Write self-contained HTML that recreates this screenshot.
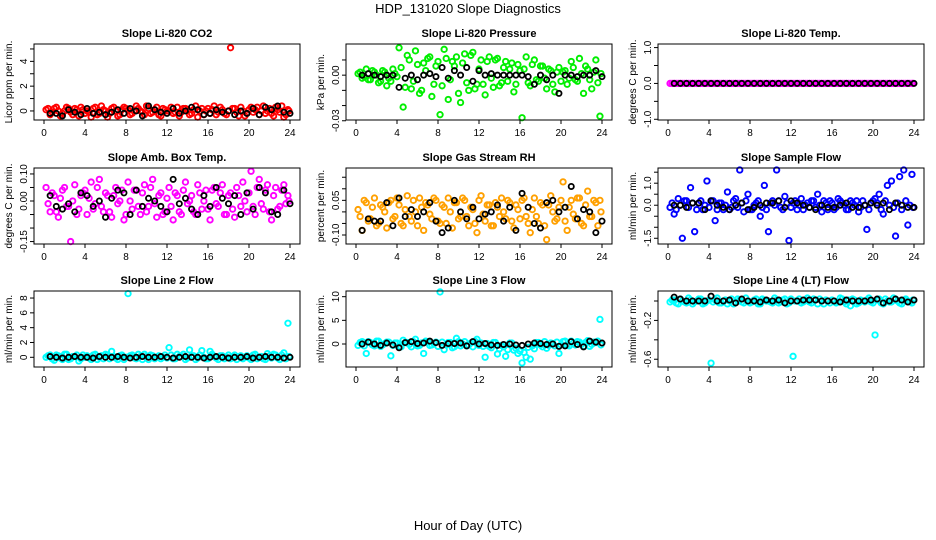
<!DOCTYPE html>
<html><head><meta charset="utf-8"><style>
body{margin:0;background:#fff;}
svg{display:block;font-family:"Liberation Sans",sans-serif;}
</style></head><body>
<svg id="c" width="936" height="540" viewBox="0 0 936 540">
<text x="468" y="13" text-anchor="middle" font-size="13">HDP_131020  Slope Diagnostics</text>
<text x="468" y="530" text-anchor="middle" font-size="13">Hour of Day (UTC)</text>
</svg>
<script>
const xTickLabels = ["0","4","8","12","16","20","24"];
const colorHours = [0.2,0.6,1.0,1.4,1.8,2.2,2.6,3.0,3.4,3.8,4.2,4.6,5.0,5.4,5.8,6.2,6.6,7.0,7.4,7.8,8.2,8.6,9.0,9.4,9.8,10.2,10.6,11.0,11.4,11.8,12.2,12.6,13.0,13.4,13.8,14.2,14.6,15.0,15.4,15.8,16.2,16.6,17.0,17.4,17.8,18.2,18.6,19.0,19.4,19.8,20.2,20.6,21.0,21.4,21.8,22.2,22.6,23.0,23.4,23.8];
const colorHours2 = [0.4,0.8,1.2,1.6,2.0,2.4,2.8,3.2,3.6,4.0,4.4,4.8,5.2,5.6,6.0,6.4,6.8,7.2,7.6,8.0,8.4,8.8,9.2,9.6,10.0,10.4,10.8,11.2,11.6,12.0,12.4,12.8,13.2,13.6,14.0,14.4,14.8,15.2,15.6,16.0,16.4,16.8,17.2,17.6,18.0,18.4,18.8,19.2,19.6,20.0,20.4,20.8,21.2,21.6,22.0,22.4,22.8,23.2,23.6,23.9];
const blackHours = [0.6,1.2,1.8,2.4,3.0,3.6,4.2,4.8,5.4,6.0,6.6,7.2,7.8,8.4,9.0,9.6,10.2,10.8,11.4,12.0,12.6,13.2,13.8,14.4,15.0,15.6,16.2,16.8,17.4,18.0,18.6,19.2,19.8,20.4,21.0,21.6,22.2,22.8,23.4,24.0];

const co2Color = [0.1,-0.3,0.2,0.0,-0.2,0.3,-0.1,0.2,-0.4,0.1, 0.0,-0.5,0.3,-0.2,0.1,-0.5,0.2,0.0,-0.3,0.3, 0.1,-0.2,0.4,0.0,-0.3,0.2,-0.1,0.3,-0.4,0.1, 0.0,-0.2,0.3,-0.1,0.2,-0.3,0.1,-0.5,0.2,0.0, -0.2,0.4,-0.1,0.1,-0.3,5.1,0.2,-0.4,0.0,-0.2, 0.3,0.1,-0.3,0.4,0.0,-0.2,0.3,-0.1,-0.5,0.1];
const co2Color2 = [0.2,-0.1,0.3,-0.4,0.0,0.2,-0.3,0.1,0.3,-0.2, -0.1,0.2,-0.3,0.4,0.0,-0.2,0.3,-0.4,0.1,0.2, -0.3,0.0,0.2,-0.1,0.4,-0.2,0.1,-0.3,0.2,0.0, 0.3,-0.1,-0.4,0.2,0.1,-0.2,0.4,0.0,-0.3,0.2, 0.1,-0.3,0.3,-0.2,0.0,0.2,-0.1,0.3,-0.4,0.1, -0.1,0.3,0.0,-0.2,0.2,-0.4,0.1,0.4,-0.3,0.0];
const co2Black = [-0.2,-0.2,-0.4,0.1,-0.1,-0.3,0.2,-0.2,-0.1,-0.3, -0.1,0.1,-0.2,0.2,0.0,-0.4,0.4,0.1,-0.1,-0.2, 0.2,-0.2,0.0,0.3,0.1,-0.3,-0.2,0.1,-0.1,0.0, -0.3,0.0,-0.2,0.2,-0.3,0.3,0.1,0.4,-0.1,-0.2];
const presColor = [0.001,-0.002,0.004,-0.003,0.002,-0.005,0.003,-0.007,-0.004,0.001, 0.018,-0.021,0.013,-0.009,0.016,-0.012,0.008,0.011,-0.014,0.006, -0.026,0.017,-0.016,0.009,0.012,-0.018,0.014,-0.010,0.015,-0.006, 0.010,-0.013,0.012,-0.008,0.011,-0.005,0.009,0.004,-0.011,0.007, -0.028,0.012,-0.007,0.010,-0.004,0.006,-0.009,0.003,-0.011,0.005, 0.002,-0.006,0.009,-0.003,0.011,-0.012,0.004,-0.009,0.010,-0.027];
const presColor2 = [0.002,-0.001,-0.003,0.003,0.000,-0.004,0.002,-0.002,0.004,-0.001, 0.005,-0.008,0.010,-0.004,0.007,-0.010,0.003,0.012,-0.006,0.009, -0.007,0.011,-0.003,0.006,-0.012,0.008,-0.005,0.013,-0.009,0.004, -0.006,0.009,-0.002,0.010,-0.007,0.005,-0.004,0.008,-0.006,0.003, 0.004,-0.005,0.007,-0.003,0.006,-0.002,0.004,-0.006,0.002,-0.004, 0.003,-0.002,0.005,-0.004,0.001,0.006,-0.003,0.002,-0.005,0.001];
const presBlack = [0.000,0.001,0.000,-0.001,0.000,0.000,-0.008,-0.002,0.000,-0.003, 0.000,0.001,-0.001,0.005,-0.002,0.003,0.000,0.005,-0.004,0.003, 0.000,0.001,0.000,0.000,0.000,0.000,0.000,-0.001,-0.006,0.000, -0.003,0.000,-0.012,0.000,0.000,-0.001,0.000,0.000,0.003,-0.001];
const tempColor = [0,0,0,0,0,0,0,0,0,0, 0,0,0,0,0,0,0,0,0,0, 0,0,0,0,0,0,0,0,0,0, 0,0,0,0,0,0,0,0,0,0, 0,0,0,0,0,0,0,0,0,0, 0,0,0,0,0,0,0,0,0,0];
const tempColor2 = [0,0,0,0,0,0,0,0,0,0, 0,0,0,0,0,0,0,0,0,0, 0,0,0,0,0,0,0,0,0,0, 0,0,0,0,0,0,0,0,0,0, 0,0,0,0,0,0,0,0,0,0, 0,0,0,0,0,0,0,0,0,0];
const tempBlack = [0,0,0,0,0,0,0,0,0,0, 0,0,0,0,0,0,0,0,0,0, 0,0,0,0,0,0,0,0,0,0, 0,0,0,0,0,0,0,0,0,0];
const ambColor = [0.05,-0.04,0.02,-0.06,0.04,-0.02,-0.15,0.06,-0.03,0.03, -0.05,0.07,-0.01,0.08,-0.04,0.02,-0.06,0.05,0.0,-0.07, 0.07,-0.03,0.04,-0.05,0.06,-0.02,0.08,-0.06,0.03,-0.04, 0.05,-0.07,0.02,-0.05,0.07,0.0,-0.04,0.06,-0.03,0.04, -0.07,0.05,-0.02,0.06,-0.05,0.03,-0.06,0.02,0.07,-0.04, 0.11,-0.05,0.08,-0.03,0.06,-0.07,0.05,-0.02,0.06,0.02];
const ambColor2 = [-0.01,0.03,-0.04,0.01,0.05,-0.02,0.00,-0.05,0.02,0.04, 0.01,-0.03,0.05,-0.02,0.03,-0.04,0.02,-0.01,0.04,-0.05, 0.00,0.04,-0.02,0.03,-0.04,0.05,-0.01,0.02,-0.05,0.01, -0.02,0.03,-0.04,0.04,-0.01,0.02,-0.05,0.03,0.00,-0.03, 0.04,-0.01,0.03,-0.05,0.02,-0.03,0.05,-0.02,0.00,0.03, -0.02,0.05,-0.01,0.04,-0.04,0.02,-0.03,0.04,-0.01,0.00];
const ambBlack = [0.02,-0.02,-0.03,-0.01,-0.04,0.03,0.02,-0.02,0.0,-0.06, 0.01,0.04,0.03,-0.05,0.04,-0.02,0.01,0.0,-0.02,-0.04, 0.08,-0.01,0.01,-0.03,-0.05,0.02,-0.02,0.05,0.01,-0.01, 0.02,-0.05,0.03,-0.03,0.05,0.03,-0.04,-0.05,0.04,-0.01];
const rhColor = [0.01,-0.08,0.04,-0.03,0.06,-0.05,0.02,-0.07,0.05,-0.02, 0.03,-0.06,0.07,-0.04,0.0,0.06,-0.08,0.03,-0.03,0.05, -0.05,0.02,0.06,-0.07,0.04,-0.02,0.05,-0.06,0.01,-0.09, 0.07,-0.04,0.03,-0.06,0.02,0.06,-0.03,0.04,-0.07,0.01, 0.05,-0.02,-0.09,0.06,-0.05,0.03,-0.12,0.07,-0.04,0.02, 0.13,-0.08,0.05,-0.03,0.06,-0.06,0.09,-0.02,0.04,0.05];
const rhColor2 = [-0.02,0.05,-0.04,0.02,-0.06,0.03,0.00,0.04,-0.03,0.06, -0.05,0.01,-0.02,0.05,-0.06,0.02,0.04,-0.01,0.06,-0.04, 0.03,-0.05,0.00,0.04,-0.03,0.06,-0.02,0.02,-0.05,0.05, -0.01,0.03,-0.06,0.04,-0.02,0.00,0.05,-0.04,0.03,-0.03, 0.06,-0.05,0.01,-0.02,0.04,-0.06,0.03,0.00,-0.03,0.05, -0.04,0.02,-0.01,0.06,-0.05,0.03,-0.02,0.05,-0.06,0.00];
const rhBlack = [-0.08,-0.03,-0.04,-0.04,0.04,-0.06,0.06,-0.02,0.01,-0.02, 0.0,0.04,-0.04,-0.09,-0.07,0.05,0.0,-0.03,0.02,-0.03, -0.01,0.0,0.03,-0.04,0.02,-0.08,0.08,0.02,-0.05,-0.07, 0.04,0.05,0.0,0.02,0.11,-0.03,0.01,0.0,-0.09,-0.04];
const sampleColor = [-0.1,-0.4,0.3,-1.5,0.2,0.8,-1.2,0.1,-0.2,1.1, 0.2,-0.7,0.1,-0.2,0.6,-0.1,0.3,1.6,-0.3,0.5, -0.2,0.1,-0.5,0.9,-1.2,0.2,1.6,-0.1,0.4,-1.6, 0.1,-0.2,0.3,0.0,-0.1,0.2,0.5,-0.3,0.1,0.2, -0.2,0.3,0.1,-0.2,0.2,0.0,-0.3,0.2,-1.1,0.1, 0.3,0.5,-0.4,0.9,1.1,-1.4,1.3,1.6,-0.9,1.4];
const sampleColor2 = [0.1,-0.2,0.0,0.2,-0.1,0.1,-0.2,0.2,0.0,-0.1, 0.2,-0.2,0.1,0.0,-0.2,0.2,-0.1,0.1,0.2,-0.2, 0.0,0.2,-0.1,-0.2,0.1,0.0,0.2,-0.2,0.1,-0.1, 0.2,0.0,-0.2,0.1,0.2,-0.1,0.0,0.2,-0.2,0.1, -0.1,0.2,0.0,-0.2,0.1,0.2,-0.1,0.0,-0.2,0.2, 0.1,-0.2,0.2,0.0,-0.1,0.1,-0.2,0.2,0.0,-0.1];
const sampleBlack = [0.0,0.0,-0.1,0.1,0.1,-0.2,0.2,0.0,-0.1,-0.2, 0.0,0.1,-0.2,-0.1,0.0,0.1,0.1,0.2,-0.1,0.2, 0.1,0.0,-0.1,-0.2,0.0,-0.1,-0.1,0.0,0.1,-0.1, -0.1,0.0,0.1,0.0,0.1,-0.2,0.1,0.0,-0.1,-0.1];
const line2Color = [0.0,0.3,-0.4,0.2,-0.3,0.4,-0.2,0.1,-0.5,0.3, 0.2,-0.3,0.4,0.0,-0.2,0.3,0.8,-0.1,0.2,-0.3, 8.6,0.3,-0.2,0.1,0.4,-0.3,0.2,0.0,-0.2,0.3, 1.3,-0.2,0.4,0.1,-0.3,1.0,0.2,-0.1,0.9,-0.2, 0.8,0.1,-0.3,0.2,0.0,-0.2,0.3,0.1,-0.2,0.2, -0.3,0.4,0.0,-0.2,0.5,-0.1,0.3,-0.3,0.6,4.6];
const line2Color2 = [0.2,-0.2,0.3,-0.1,0.4,-0.3,0.1,0.3,-0.2,0.0, -0.1,0.3,-0.3,0.2,0.4,-0.2,0.1,-0.3,0.3,0.0, 0.2,-0.1,0.4,-0.3,0.1,0.3,-0.2,0.2,0.0,-0.1, 0.3,-0.2,0.1,0.4,-0.1,0.2,-0.3,0.3,0.0,-0.2, 0.4,-0.1,0.2,-0.2,0.3,0.1,-0.3,0.2,0.0,-0.1, 0.3,-0.2,0.1,-0.3,0.2,0.4,-0.1,0.3,-0.2,0.1];
const line2Black = [0.1,0.0,-0.1,0.0,0.1,0.0,0.0,-0.1,0.1,0.0, 0.0,0.1,0.0,-0.1,0.0,0.1,0.0,0.0,0.1,0.0, -0.1,0.0,0.1,0.0,0.0,-0.1,0.0,0.1,0.0,-0.1, 0.0,0.0,0.1,-0.1,0.0,0.1,0.0,0.0,-0.1,0.0];
const line3Color = [-0.3,0.5,-2.0,0.3,-0.4,0.6,-0.2,0.4,-2.5,0.2, -0.5,0.8,0.3,-0.6,1.0,-0.3,-2.0,0.5,-0.2,0.4, 11.0,-1.2,0.3,-0.8,1.2,-0.4,0.5,-0.2,-0.6,1.0, 0.2,-2.8,-0.5,0.3,-2.1,-0.3,-2.6,0.2,-1.3,-2.0, -4.0,-2.8,-3.2,-1.0,0.3,-0.6,-0.9,0.2,-0.4,-2.0, 0.5,-0.3,0.6,-0.2,0.4,-0.5,0.7,-0.1,0.3,5.2];
const line3Color2 = [0.3,-0.4,0.5,-0.2,0.6,-0.5,0.1,0.4,-0.3,0.2, -0.6,0.3,-0.1,0.5,-0.4,0.2,0.6,-0.3,0.1,-0.5, 0.4,-0.2,0.3,-0.6,0.5,0.0,-0.4,0.2,0.6,-0.3, -0.5,0.1,-0.8,0.3,-1.0,-0.6,-1.2,0.2,-0.9,-1.5, -1.8,-0.7,-0.4,0.3,-0.2,0.5,-0.3,0.1,0.4,-0.2, 0.6,-0.4,0.2,0.5,-0.1,0.3,-0.5,0.4,0.6,-0.2];
const line3Black = [0.0,0.4,0.0,-0.3,0.2,-0.2,-0.8,0.3,0.5,0.1, 0.2,0.6,0.3,-0.3,0.1,0.1,0.2,-0.4,0.5,0.0, 0.1,-0.2,-0.3,-0.1,0.0,-0.2,-0.3,0.0,0.2,0.1, -0.1,0.0,-0.5,-0.4,0.5,-0.1,-0.6,0.6,0.4,0.2];
const line4Color = [-0.01,0.01,-0.03,0.0,-0.02,0.01,-0.01,0.02,-0.03,0.0, -0.64,0.01,-0.02,0.0,-0.03,0.02,-0.01,0.01,-0.02,0.0, -0.01,0.02,-0.03,0.01,0.0,-0.02,0.01,-0.01,0.02,-0.02, -0.57,0.0,-0.02,0.01,-0.01,0.02,-0.03,0.0,0.01,-0.02, 0.0,-0.01,0.02,-0.03,-0.05,0.01,-0.02,0.0,0.01,-0.01, -0.35,0.02,-0.03,0.0,-0.01,0.02,-0.02,0.01,0.0,-0.02];
const line4Color2 = [0.01,-0.02,0.02,-0.01,0.03,-0.03,0.0,0.02,-0.02,0.01, -0.01,0.03,-0.02,0.01,0.0,-0.03,0.02,-0.01,0.03,-0.02, 0.01,-0.03,0.02,0.0,-0.01,0.03,-0.02,0.01,-0.03,0.02, 0.0,0.02,-0.01,0.03,-0.02,0.01,0.02,-0.03,0.0,0.01, -0.02,0.03,-0.01,0.01,0.02,-0.03,0.01,-0.01,0.03,-0.02, 0.01,-0.02,0.02,-0.01,0.03,0.0,-0.03,0.02,-0.01,0.01];
const line4Black = [0.04,0.02,0.0,0.0,0.0,0.0,0.05,0.0,0.0,0.01, -0.02,0.02,0.0,0.0,-0.01,0.01,0.0,0.01,-0.02,0.0, 0.0,0.01,0.01,0.01,0.0,0.0,0.0,-0.01,0.01,0.0, 0.0,0.0,0.01,0.02,-0.02,0.0,0.02,0.01,-0.01,0.01];

const panels = [
 {name:"co2",title:"Slope Li-820 CO2",ylab:"Licor ppm per min.",col:0,row:0,lo:-0.73,hi:5.4,ticks:[0,1,2,3,4,5],labels:[[0,"0"],[2,"2"],[4,"4"]],color:"#ff0000",c:co2Color,c2:co2Color2,b:co2Black},
 {name:"pressure",title:"Slope Li-820 Pressure",ylab:"kPa per min.",col:1,row:0,lo:-0.0295,hi:0.0205,ticks:[-0.03,-0.02,-0.01,0,0.01],labels:[[0,"0.00"],[-0.03,"-0.03"]],color:"#00ee00",c:presColor,c2:presColor2,b:presBlack},
 {name:"temp",title:"Slope Li-820 Temp.",ylab:"degrees C per min.",col:2,row:0,lo:-1.02,hi:1.1,ticks:[-1,-0.5,0,0.5,1],labels:[[1,"1.0"],[0,"0.0"],[-1,"-1.0"]],color:"#ff00ff",c:tempColor,c2:tempColor2,b:tempBlack},
 {name:"amb-box",title:"Slope Amb. Box Temp.",ylab:"degrees C per min.",col:0,row:1,lo:-0.159,hi:0.122,ticks:[-0.15,-0.1,-0.05,0,0.05,0.1],labels:[[0.1,"0.10"],[0,"0.00"],[-0.15,"-0.15"]],color:"#ff00ff",c:ambColor,c2:ambColor2,b:ambBlack},
 {name:"gas-rh",title:"Slope Gas Stream RH",ylab:"percent per min.",col:1,row:1,lo:-0.139,hi:0.19,ticks:[-0.1,-0.05,0,0.05,0.1,0.15],labels:[[0.05,"0.05"],[-0.1,"-0.10"]],color:"#ffa000",c:rhColor,c2:rhColor2,b:rhBlack},
 {name:"sample-flow",title:"Slope Sample Flow",ylab:"ml/min per min.",col:2,row:1,lo:-1.76,hi:1.69,ticks:[-1.5,-1,-0.5,0,0.5,1,1.5],labels:[[1,"1.0"],[0,"0.0"],[-1.5,"-1.5"]],color:"#0000ff",c:sampleColor,c2:sampleColor2,b:sampleBlack},
 {name:"line2",title:"Slope Line 2 Flow",ylab:"ml/min per min.",col:0,row:2,lo:-1.31,hi:8.95,ticks:[0,2,4,6,8],labels:[[0,"0"],[2,"2"],[4,"4"],[6,"6"],[8,"8"]],color:"#00ffff",c:line2Color,c2:line2Color2,b:line2Black},
 {name:"line3",title:"Slope Line 3 Flow",ylab:"ml/min per min.",col:1,row:2,lo:-4.86,hi:11.2,ticks:[0,5,10],labels:[[0,"0"],[5,"5"],[10,"10"]],color:"#00ffff",c:line3Color,c2:line3Color2,b:line3Black},
 {name:"line4",title:"Slope Line 4 (LT) Flow",ylab:"ml/min per min.",col:2,row:2,lo:-0.68,hi:0.103,ticks:[-0.6,-0.4,-0.2,0],labels:[[-0.2,"-0.2"],[-0.6,"-0.6"]],color:"#00ffff",c:line4Color,c2:line4Color2,b:line4Black}
];
const colLeft=[34,346,658], rowTop=[44,168,291], W=266, H=76;
const NS="http://www.w3.org/2000/svg";
const svg=document.getElementById('c');
function mk(tag,attrs,parent){const e=document.createElementNS(NS,tag);for(const k in attrs)e.setAttribute(k,attrs[k]);(parent||svg).appendChild(e);return e;}
panels.forEach(p=>{
  const L=colLeft[p.col], T=rowTop[p.row];
  const g=mk('g',{});
  
  
  const xs=h=>L+10+h*(W-20)/24;
  const ys=v=>T+H-(v-p.lo)/(p.hi-p.lo)*H;
  const t=mk('text',{x:L+W/2,y:T-7,'text-anchor':'middle','font-size':11,'font-weight':'bold'},g);
  t.textContent=p.title;
  
  
  const yl=mk('text',{x:0,y:0,'text-anchor':'middle','font-size':10,transform:`translate(${L-22},${T+H/2}) rotate(-90)`},g);
  yl.textContent=p.ylab;
  
  
  const ax=mk('g',{stroke:'#000','stroke-width':1},g);
  
  
  xTickLabels.forEach(s=>{const h=+s;const x=xs(h);mk('line',{x1:x,x2:x,y1:T+H,y2:T+H+4},ax);
    const tl=mk('text',{x:x,y:T+H+16,'text-anchor':'middle','font-size':10,stroke:'none'},g);tl.textContent=s;
    
    });
  p.ticks.forEach(v=>{const y=ys(v);mk('line',{x1:L-4,x2:L,y1:y,y2:y},ax);});
  p.labels.forEach(([v,s])=>{const yl2=mk('text',{x:0,y:0,'text-anchor':'middle','font-size':10,transform:`translate(${L-7},${ys(v)}) rotate(-90)`},g);yl2.textContent=s;
    
    });
  const cg=mk('g',{fill:'none',stroke:p.color,'stroke-width':1.9},g);
  
  
  p.c2.forEach((v,i)=>{const pt=mk('circle',{cx:xs(colorHours2[i]),cy:ys(v),r:2.7},cg);
    
    });
  p.c.forEach((v,i)=>{const pt=mk('circle',{cx:xs(colorHours[i]),cy:ys(v),r:2.7},cg);
    
    });
  const bg=mk('g',{fill:'none',stroke:'#000','stroke-width':1.8},g);
  
  
  p.b.forEach((v,i)=>{const pt=mk('circle',{cx:xs(blackHours[i]),cy:ys(v),r:2.6},bg);
    
    });
  const box=mk('rect',{x:L,y:T,width:W,height:H,fill:'none',stroke:'#000','stroke-width':1},g);
  
  
});
</script>
</body></html>
